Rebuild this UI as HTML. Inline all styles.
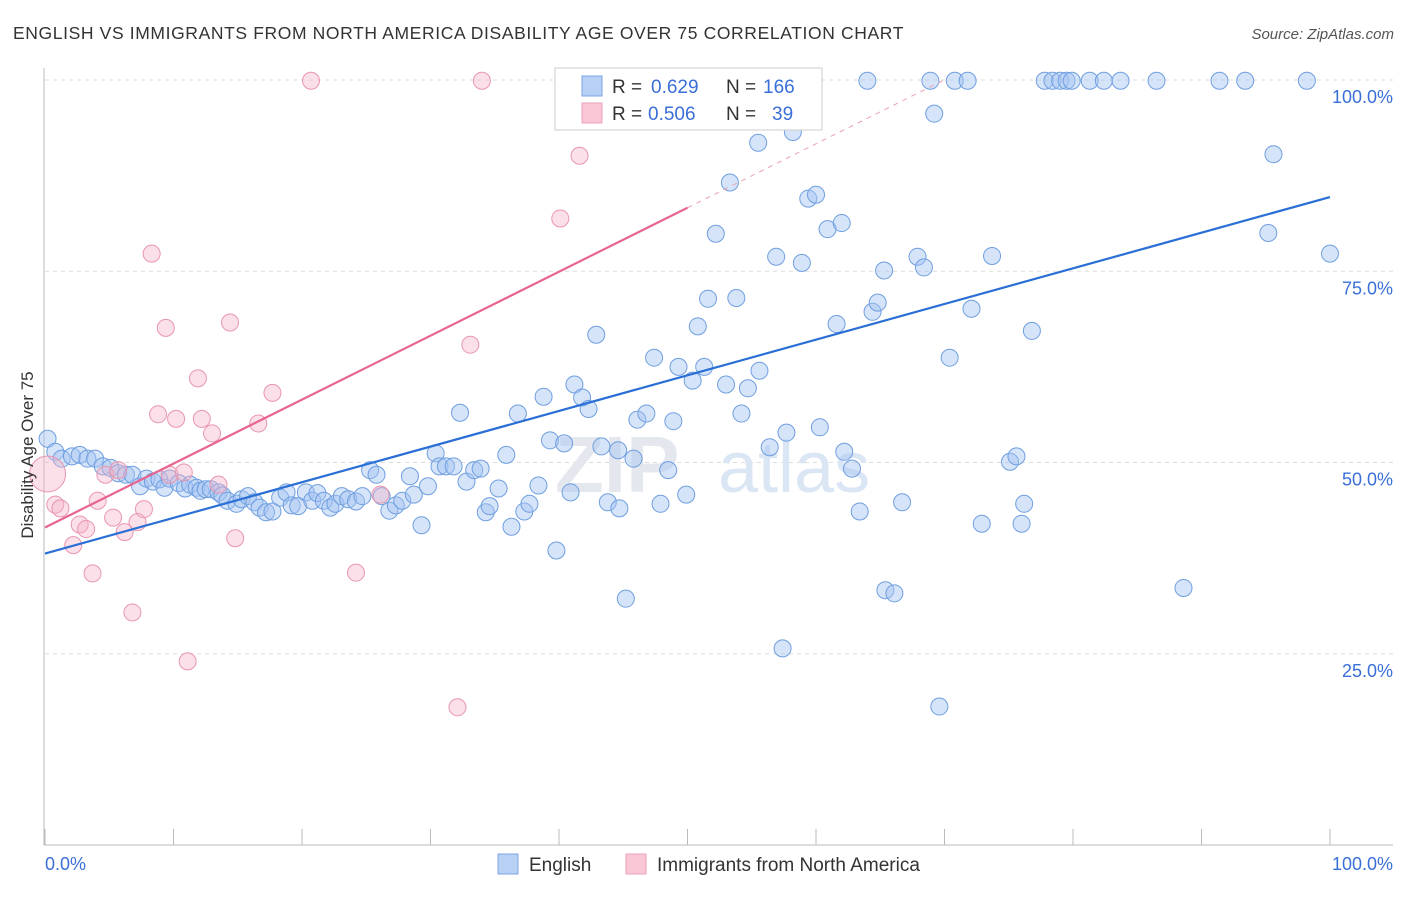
<!DOCTYPE html>
<html><head><meta charset="utf-8"><style>
body{margin:0;background:#fff;font-family:"Liberation Sans",sans-serif}
svg text{font-family:"Liberation Sans",sans-serif}
</style></head><body>
<svg id="chart" width="1406" height="892" xmlns="http://www.w3.org/2000/svg">
<text x="13" y="39" font-size="17.5" fill="#333" letter-spacing="0.62">ENGLISH VS IMMIGRANTS FROM NORTH AMERICA DISABILITY AGE OVER 75 CORRELATION CHART</text>
<text x="1394" y="39" font-size="15" fill="#555" text-anchor="end" font-style="italic">Source: ZipAtlas.com</text>
<g id="grid"></g>
<text x="555" y="492" font-size="80" fill="#e4e8ee" font-weight="bold" font-family="Liberation Serif">ZIP</text>
<text x="718" y="492" font-size="72" fill="#dbe6f5">atlas</text>
<g id="pts"></g>
<g id="lines"></g>
<text transform="translate(33,455) rotate(-90)" font-size="17" fill="#333" text-anchor="middle">Disability Age Over 75</text>
<g>
<rect x="555" y="68" width="267" height="62" fill="#fff" stroke="#ccc"/>
<rect x="582" y="76" width="20" height="20" fill="#b9d0f5" stroke="#7aa5e5"/>
<rect x="582" y="103" width="20" height="20" fill="#f9c6d6" stroke="#eda0b8"/>
<text x="612" y="93" font-size="19" fill="#333">R =</text>
<text x="651" y="93" font-size="19" fill="#3a6fd8">0.629</text>
<text x="726" y="93" font-size="19" fill="#333">N =</text>
<text x="763" y="93" font-size="19" fill="#3a6fd8">166</text>
<text x="612" y="120" font-size="19" fill="#333">R =</text>
<text x="648" y="120" font-size="19" fill="#3a6fd8">0.506</text>
<text x="726" y="120" font-size="19" fill="#333">N =</text>
<text x="772" y="120" font-size="19" fill="#3a6fd8">39</text>
</g>
<g>
<rect x="498" y="854" width="20" height="20" fill="#b9d0f5" stroke="#7aa5e5"/>
<text x="529" y="871" font-size="19" fill="#333">English</text>
<rect x="626" y="854" width="20" height="20" fill="#f9c6d6" stroke="#eda0b8"/>
<text x="657" y="871" font-size="19" fill="#333">Immigrants from North America</text>
</g>
</svg>
<script>
const yTicks=[25,50,75,100];
const yTickLabels=["25.0%","50.0%","75.0%","100.0%"];
const englishX=[0.2,0.8,1.3,2.1,2.7,3.3,3.9,4.5,5.1,5.7,6.3,6.8,7.4,7.9,8.4,8.9,9.3,9.7,10.4,10.9,11.3,11.8,12.1,12.5,12.9,13.5,13.8,14.2,14.9,15.3,15.8,16.3,16.7,17.2,17.7,18.3,18.8,19.2,19.7,20.3,20.8,21.2,21.7,22.2,22.6,23.1,23.6,24.2,24.7,25.3,25.8,26.2,26.8,27.3,27.8,28.4,28.7,29.3,29.8,30.4,30.7,31.2,31.8,32.3,32.8,33.4,33.9,34.3,34.6,35.3,35.9,36.3,36.8,37.3,37.7,38.4,38.8,39.3,39.8,40.4,40.9,41.2,41.8,42.3,42.9,43.3,43.8,44.6,45.2,44.7,45.8,46.1,46.8,47.4,47.9,48.5,48.9,49.3,49.9,50.4,50.8,51.3,51.6,52.2,53.0,53.3,53.8,54.2,54.7,55.5,55.6,56.4,56.9,57.4,57.7,58.2,58.9,59.4,60.0,60.3,60.9,61.6,62.0,62.2,62.8,63.4,64.0,64.4,64.8,65.3,65.4,66.1,66.7,67.9,68.4,68.9,69.2,69.6,70.4,70.8,71.8,72.1,72.9,73.7,75.1,75.6,76.0,76.2,76.8,77.8,78.4,79.0,79.5,79.9,81.3,82.4,83.7,86.5,88.6,91.4,93.4,95.2,95.6,98.2,100];
const englishY=[53.1,51.4,50.5,50.8,51.0,50.5,50.5,49.5,49.3,48.6,48.4,48.4,46.9,47.9,47.5,47.8,46.7,47.9,47.3,46.6,47.1,46.7,46.3,46.5,46.5,46.1,45.7,45.0,44.6,45.2,45.6,44.8,44.1,43.5,43.6,45.4,46.1,44.4,44.3,46.1,45.0,46.0,45.0,44.1,44.6,45.6,45.2,44.9,45.6,49.0,48.4,45.6,43.7,44.4,45.0,48.2,45.8,41.8,46.9,51.2,49.5,49.5,49.5,56.5,47.5,49.0,49.2,43.5,44.3,46.6,51.0,41.6,56.4,43.6,44.6,47.0,58.6,52.9,38.5,52.5,46.1,60.2,58.5,57.0,66.7,52.1,44.8,51.6,32.2,44.0,50.5,55.6,56.4,63.7,44.6,49.0,55.4,62.5,45.8,60.7,67.8,62.5,71.4,79.9,60.2,86.6,71.5,56.4,59.7,91.8,62.0,52.0,76.9,25.7,53.9,93.2,76.1,84.5,85.0,54.6,80.5,68.1,81.3,51.4,49.2,43.6,99.9,69.7,70.9,75.1,33.3,32.9,44.8,76.9,75.5,99.9,95.6,18.1,63.7,99.9,99.9,70.1,42.0,77.0,50.1,50.8,42.0,44.6,67.2,99.9,99.9,99.9,99.9,99.9,99.9,99.9,99.9,99.9,33.6,99.9,99.9,80.0,90.3,99.9,77.3];
const immX=[0.8,1.2,2.2,2.7,3.2,3.7,4.1,4.7,5.3,5.7,6.2,6.8,7.2,7.7,8.3,8.8,9.4,9.7,10.2,10.8,11.1,11.9,12.2,13.0,13.5,14.4,14.8,16.6,17.7,20.7,24.2,26.1,32.1,33.1,34.0,40.1,41.6];
const immY=[44.5,44.0,39.2,41.9,41.3,35.5,45.0,48.4,42.8,49.0,40.9,30.4,42.2,43.9,77.3,56.3,67.6,48.4,55.7,48.7,24.0,61.0,55.7,53.8,47.1,68.3,40.1,55.1,59.1,99.9,35.6,45.8,18.0,65.4,99.9,81.9,90.1];
const englishTrend=[38.1,84.7];
const immTrend=[41.5,83.3];
const NS="http://www.w3.org/2000/svg";
const X0=45,X1=1330,Y0=845,Y100=80;
const sx=v=>X0+(X1-X0)*v/100, sy=v=>Y0-(Y0-Y100)*v/100;
function mk(tag,attrs,parent){const e=document.createElementNS(NS,tag);for(const k in attrs)e.setAttribute(k,attrs[k]);parent.appendChild(e);return e;}
const grid=document.getElementById('grid');
yTicks.forEach((t,i)=>{
 const l=mk('line',{x1:45,x2:1393,y1:sy(t),y2:sy(t),stroke:'#ddd','stroke-dasharray':'4,4'},grid);
 
 
 const tx=mk('text',{x:1393,y:sy(t)+23,'font-size':18,fill:'#3a6fd8','text-anchor':'end'},grid);
 tx.textContent=yTickLabels[i];
 
 
});
let a=mk('line',{x1:44,x2:44,y1:68,y2:845,stroke:'#bbb'},grid);


a=mk('line',{x1:44,x2:1393,y1:845,y2:845,stroke:'#bbb'},grid);


for(let t=0;t<=100;t+=10){
 const k=mk('line',{x1:sx(t),x2:sx(t),y1:829,y2:845,stroke:'#bbb'},grid);
 
 
}
let xl=mk('text',{x:45,y:870,'font-size':18,fill:'#3a6fd8'},grid);xl.textContent='0.0%';


xl=mk('text',{x:1393,y:870,'font-size':18,fill:'#3a6fd8','text-anchor':'end'},grid);xl.textContent='100.0%';


const pts=document.getElementById('pts');
englishX.forEach((x,i)=>{
 const c=mk('circle',{cx:sx(x),cy:sy(englishY[i]),r:8.5,fill:'rgba(165,195,242,0.45)',stroke:'#6f9fe0','stroke-width':1},pts);
 
 
});
immX.forEach((x,i)=>{
 const c=mk('circle',{cx:sx(x),cy:sy(immY[i]),r:8.5,fill:'rgba(246,178,200,0.4)',stroke:'#e896b0','stroke-width':1},pts);
 
 
});
let big=mk('circle',{cx:sx(0.2),cy:sy(48.5),r:18,fill:'rgba(246,178,200,0.4)',stroke:'#e896b0'},pts);


const lines=document.getElementById('lines');
let ln=mk('line',{x1:sx(0),y1:sy(englishTrend[0]),x2:sx(100),y2:sy(englishTrend[1]),stroke:'#2a6fd6','stroke-width':2.2},lines);


const slope=(immTrend[1]-immTrend[0])/50;
ln=mk('line',{x1:sx(0),y1:sy(immTrend[0]),x2:sx(50),y2:sy(immTrend[1]),stroke:'#e8658f','stroke-width':2.2},lines);


const xEnd=(100-immTrend[0])/slope;
ln=mk('line',{x1:sx(50),y1:sy(immTrend[1]),x2:sx(xEnd),y2:sy(100),stroke:'#eaa0b8','stroke-width':1,'stroke-dasharray':'5,5'},lines);


</script>
</body></html>
